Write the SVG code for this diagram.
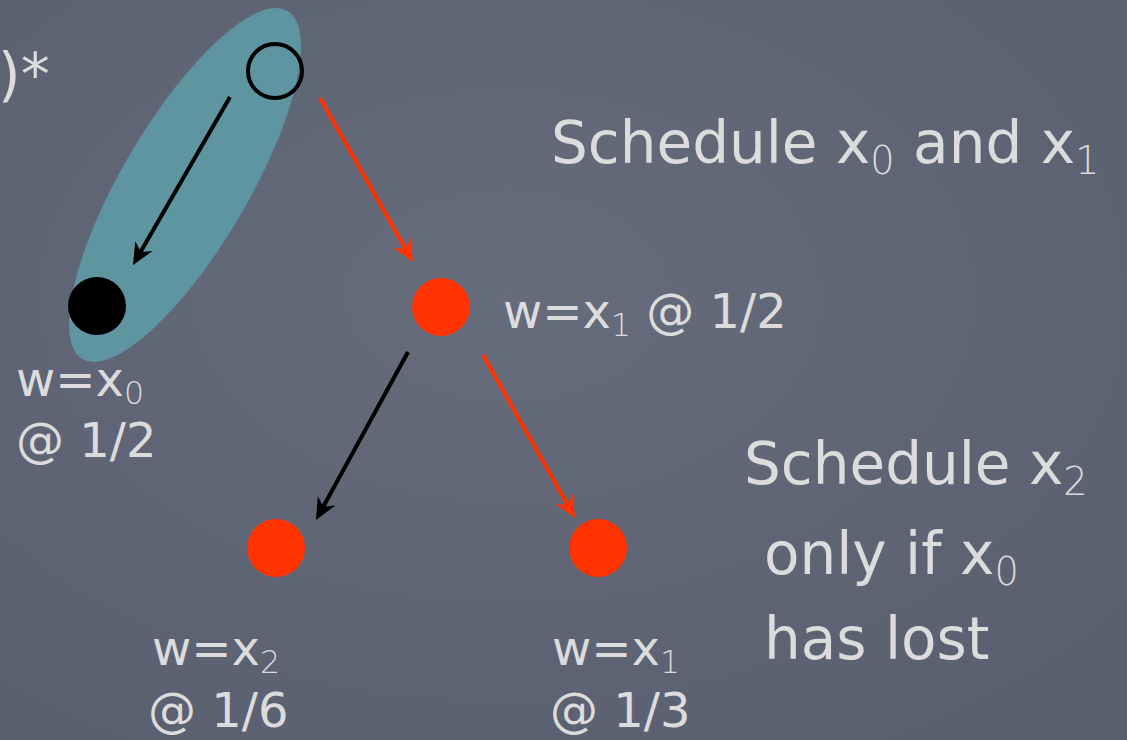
<svg xmlns="http://www.w3.org/2000/svg" width="1127" height="740" viewBox="0 0 1127 740">
<defs>
<radialGradient id="bg" cx="0.45" cy="0.4" r="0.8">
<stop offset="0" stop-color="#666c7c"/>
<stop offset="1" stop-color="#585e6e"/>
</radialGradient>
<marker id="ahk" markerUnits="userSpaceOnUse" viewBox="-24 -12 30 24" markerWidth="30" markerHeight="24" refX="-5" refY="0" orient="auto">
<path d="M0,0 L-22,-10 L-15,0 L-22,10 Z" fill="#000"/>
</marker>
<marker id="ahr" markerUnits="userSpaceOnUse" viewBox="-24 -12 30 24" markerWidth="30" markerHeight="24" refX="-5" refY="0" orient="auto">
<path d="M0,0 L-22,-10 L-15,0 L-22,10 Z" fill="#ff3200"/>
</marker>
</defs>
<style>
.t{font-family:"DejaVu Sans","Noto Sans",sans-serif;fill:#dcdcdc;}
.big{font-size:58px;}
.lbl{font-size:48px;}
.sub{font-size:0.66em;font-weight:300;}
.blk{stroke:#000;stroke-width:4;fill:none;marker-end:url(#ahk);}
.red{stroke:#ff3200;stroke-width:4;fill:none;marker-end:url(#ahr);}
.rn{fill:#ff3200;}
</style>
<rect x="0" y="0" width="1127" height="740" fill="url(#bg)"/>

<g id="group-highlight">
<ellipse cx="185" cy="185" rx="63" ry="202" transform="rotate(30.5 185 185)" fill="#5e9aa6" fill-opacity="0.9"/>
</g>

<g id="connectors">
<line class="blk" x1="230" y1="97" x2="135.5" y2="260.7"/>
<line class="red" x1="320" y1="98" x2="410.5" y2="257.6"/>
<line class="blk" x1="408" y1="352" x2="318.4" y2="515.6"/>
<line class="red" x1="483" y1="355" x2="572.5" y2="513.6"/>
</g>

<g id="node-root">
<circle cx="275" cy="71" r="27" fill="none" stroke="#000" stroke-width="4"/>
</g>
<g id="node-x0">
<circle cx="97" cy="306" r="29" fill="#000"/>
<text class="t lbl" x="16" y="396">w=x<tspan class="sub" dy="8">0</tspan></text>
<text class="t lbl" x="16" y="457">@ 1/2</text>
</g>
<g id="node-x1">
<circle class="rn" cx="441" cy="307" r="29"/>
<text class="t lbl" x="503" y="328">w=x<tspan class="sub" dy="8">1</tspan><tspan dy="-8"> @ 1/2</tspan></text>
</g>
<g id="node-x2">
<circle class="rn" cx="276" cy="548" r="29"/>
<text class="t lbl" x="152" y="665">w=x<tspan class="sub" dy="8">2</tspan></text>
<text class="t lbl" x="148" y="727">@ 1/6</text>
</g>
<g id="node-x1b">
<circle class="rn" cx="598" cy="548" r="29"/>
<text class="t lbl" x="552" y="665">w=x<tspan class="sub" dy="8">1</tspan></text>
<text class="t lbl" x="550" y="727">@ 1/3</text>
</g>

<g id="notes">
<text class="t big" x="-2" y="95">)*</text>
<text class="t big" x="551" y="163">Schedule x<tspan class="sub" dy="11">0</tspan><tspan dy="-11"> and x</tspan><tspan class="sub" dy="11">1</tspan></text>
<text class="t big" x="744" y="484">Schedule x<tspan class="sub" dy="11">2</tspan></text>
<text class="t big" x="764" y="574">only if x<tspan class="sub" dy="11">0</tspan></text>
<text class="t big" x="764" y="659">has lost</text>
</g>
</svg>
